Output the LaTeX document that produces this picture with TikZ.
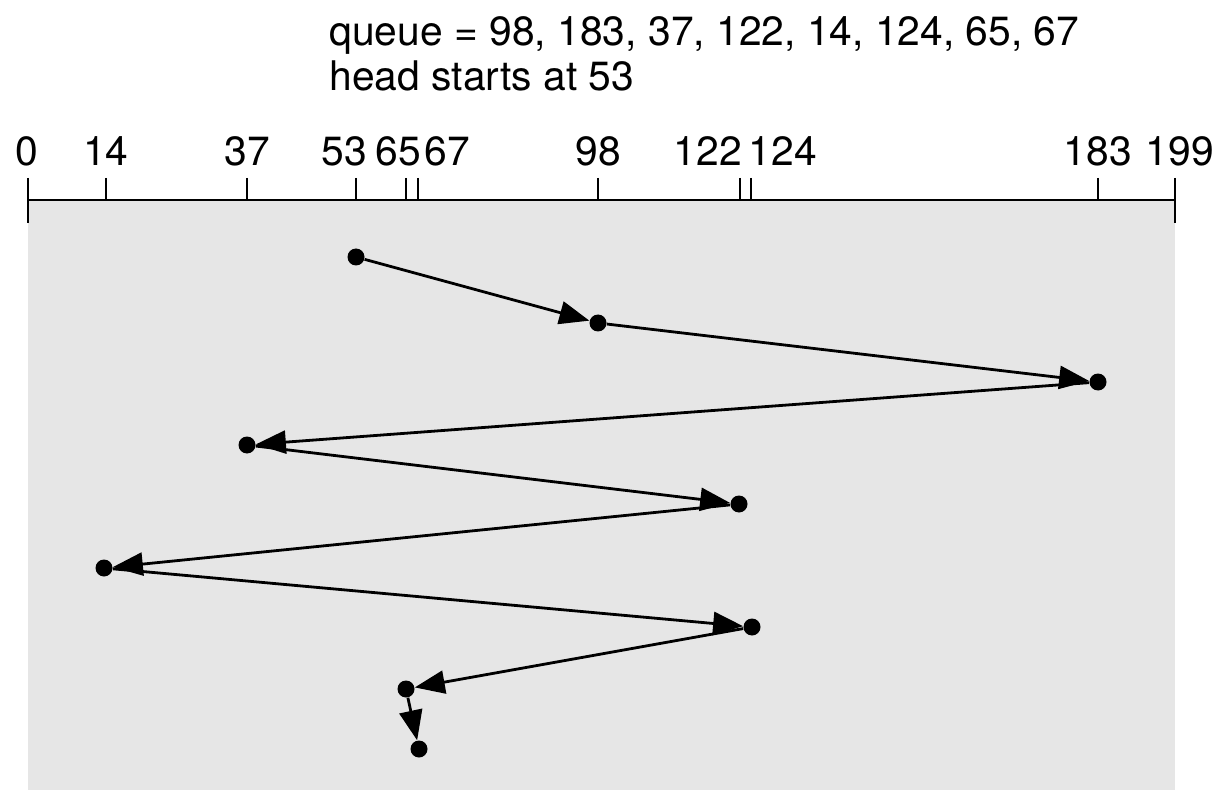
\documentclass[tikz,border=0pt]{standalone}
\usepackage{fontspec}
\setmainfont{TeX Gyre Heros}
\usetikzlibrary{arrows.meta}
\definecolor{diskgray}{HTML}{E6E6E6}

\begin{document}
\begin{tikzpicture}[x=0.5pt,y=-0.5pt,
  req/.style={circle,fill=black,inner sep=0pt,minimum size=8.5pt},
  lbl/.style={anchor=base,font=\fontsize{20.4}{24}\selectfont,inner sep=0pt},
  move/.style={->,line width=1.4pt},
  >={Triangle[length=15pt,width=11.5pt]}]
  \useasboundingbox (0,0) rectangle (1221,802);
  \fill[diskgray] (28,200) rectangle (1175,790);

  \node[lbl,anchor=base west] (queue) at (329,46) {queue = 98, 183, 37, 122, 14, 124, 65, 67};
  \node[lbl,anchor=base west] (start) at (329,91) {head starts at 53};

  % cylinder axis
  \draw[line width=1pt] (28,200) -- (1175,200);
  \draw[line width=1pt] (28,200) -- (28,223);
  \draw[line width=1pt] (1175,200) -- (1175,223);
  \foreach \cyl/\x/\lx in {0/28/27,14/106/106,37/247/247,53/356/344,65/406/398,67/418/447,
      98/598/598,122/740/708,124/751/783,183/1098/1098,199/1175/1180} {
    \draw[line width=1pt] (\x,178) -- (\x,200);
    \node[lbl] (c\cyl) at (\lx,166) {\cyl};
  }

  % head positions
  \foreach \i/\x/\y in {0/356/257,1/598/323,2/1098/382,3/247/445,4/739/504,
      5/104/568,6/752/627,7/406/689,8/419/749}
    \node[req] (p\i) at (\x,\y) {};

  \foreach \a/\b in {0/1,1/2,2/3,3/4,4/5,5/6,6/7,7/8}
    \draw[move] (p\a) -- (p\b);
\end{tikzpicture}
\end{document}
